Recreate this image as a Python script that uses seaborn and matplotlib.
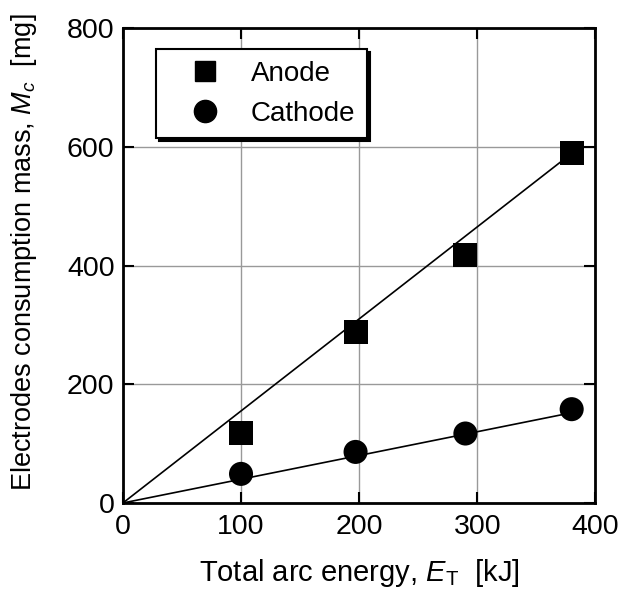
import matplotlib
matplotlib.use("Agg")
import matplotlib.pyplot as plt
import seaborn as sns
import numpy as np
import pandas as pd

# ---- data ----
energy = [100, 197, 290, 380]
anode = [118, 288, 418, 590]
cathode = [49, 86, 117, 158]
series_names = ["Anode", "Cathode"]
fit_slopes = [1.55, 0.40]   # slopes of the fitted straight lines through origin
fit_range = [0, 380]
x_ticks = [0, 100, 200, 300, 400]
y_ticks = [0, 200, 400, 600, 800]

sns.set_theme(style="white")
plt.rcParams['font.family'] = ['Liberation Sans', 'DejaVu Sans']
plt.rcParams['mathtext.fontset'] = 'custom'
plt.rcParams['mathtext.rm'] = 'Liberation Sans'
plt.rcParams['mathtext.it'] = 'Liberation Sans:italic'
plt.rcParams['text.color'] = 'black'
plt.rcParams['axes.labelcolor'] = 'black'
plt.rcParams['xtick.color'] = 'black'
plt.rcParams['ytick.color'] = 'black'

df = pd.DataFrame({
    "E": energy * 2,
    "M": anode + cathode,
    "kind": [series_names[0]] * len(energy) + [series_names[1]] * len(energy),
})
fit_df = pd.DataFrame({
    "E": fit_range * 2,
    "M": [fit_slopes[0] * v for v in fit_range] + [fit_slopes[1] * v for v in fit_range],
    "kind": [series_names[0]] * 2 + [series_names[1]] * 2,
})

fig = plt.figure(figsize=(6.24, 5.97), dpi=100)
ax = fig.add_axes([0.197, 0.1575, 0.757, 0.7955])

sns.lineplot(data=fit_df, x="E", y="M", units="kind", estimator=None,
             color="black", lw=1.2, ax=ax, legend=False)
sns.scatterplot(data=df, x="E", y="M", style="kind",
                markers={"Anode": "s", "Cathode": "o"},
                color="black", s=300, edgecolor="none", ax=ax, legend=False, zorder=5)

ax.set_xlim(0, 400)
ax.set_ylim(0, 800)
ax.set_xticks(x_ticks)
ax.set_yticks(y_ticks)
ax.set_xticklabels([str(t) for t in x_ticks], fontsize=20.5)
ax.set_yticklabels([str(t) for t in y_ticks], fontsize=20.5)
ax.grid(True, color="#999999", lw=1.0)
ax.set_axisbelow(True)
ax.tick_params(direction="in", length=8, width=1.5, color="black",
               top=True, right=True, bottom=True, left=True)
ax.tick_params(axis="x", pad=8)
ax.tick_params(axis="y", pad=6)
for sp in ax.spines.values():
    sp.set_visible(True)
    sp.set_color("black")
    sp.set_linewidth(2)

ax.set_xlabel(r"Total arc energy, $\mathit{E}_{\mathrm{T}}$  [kJ]", fontsize=21)
ax.set_ylabel(r"Electrodes consumption mass, $\mathit{M}_{c}$  [mg]", fontsize=19.5)
ax.xaxis.set_label_coords(0.5, -0.113)
ax.yaxis.set_label_coords(-0.177, 0.528)

from matplotlib.lines import Line2D
handles = [Line2D([], [], marker="s", color="black", ls="none", markersize=15),
           Line2D([], [], marker="o", color="black", ls="none", markersize=16)]
leg = ax.legend(handles, series_names, loc="upper left", bbox_to_anchor=(0.07, 0.956),
                borderaxespad=0, fontsize=20, frameon=True, fancybox=False,
                shadow={"color": "black", "alpha": 1.0}, handletextpad=0.3,
                borderpad=0.42, labelspacing=0.5, handlelength=2.7)
leg.get_frame().set_edgecolor("black")
leg.get_frame().set_linewidth(1.5)
leg.get_frame().set_alpha(1)

fig.savefig("out.png", dpi=100)
